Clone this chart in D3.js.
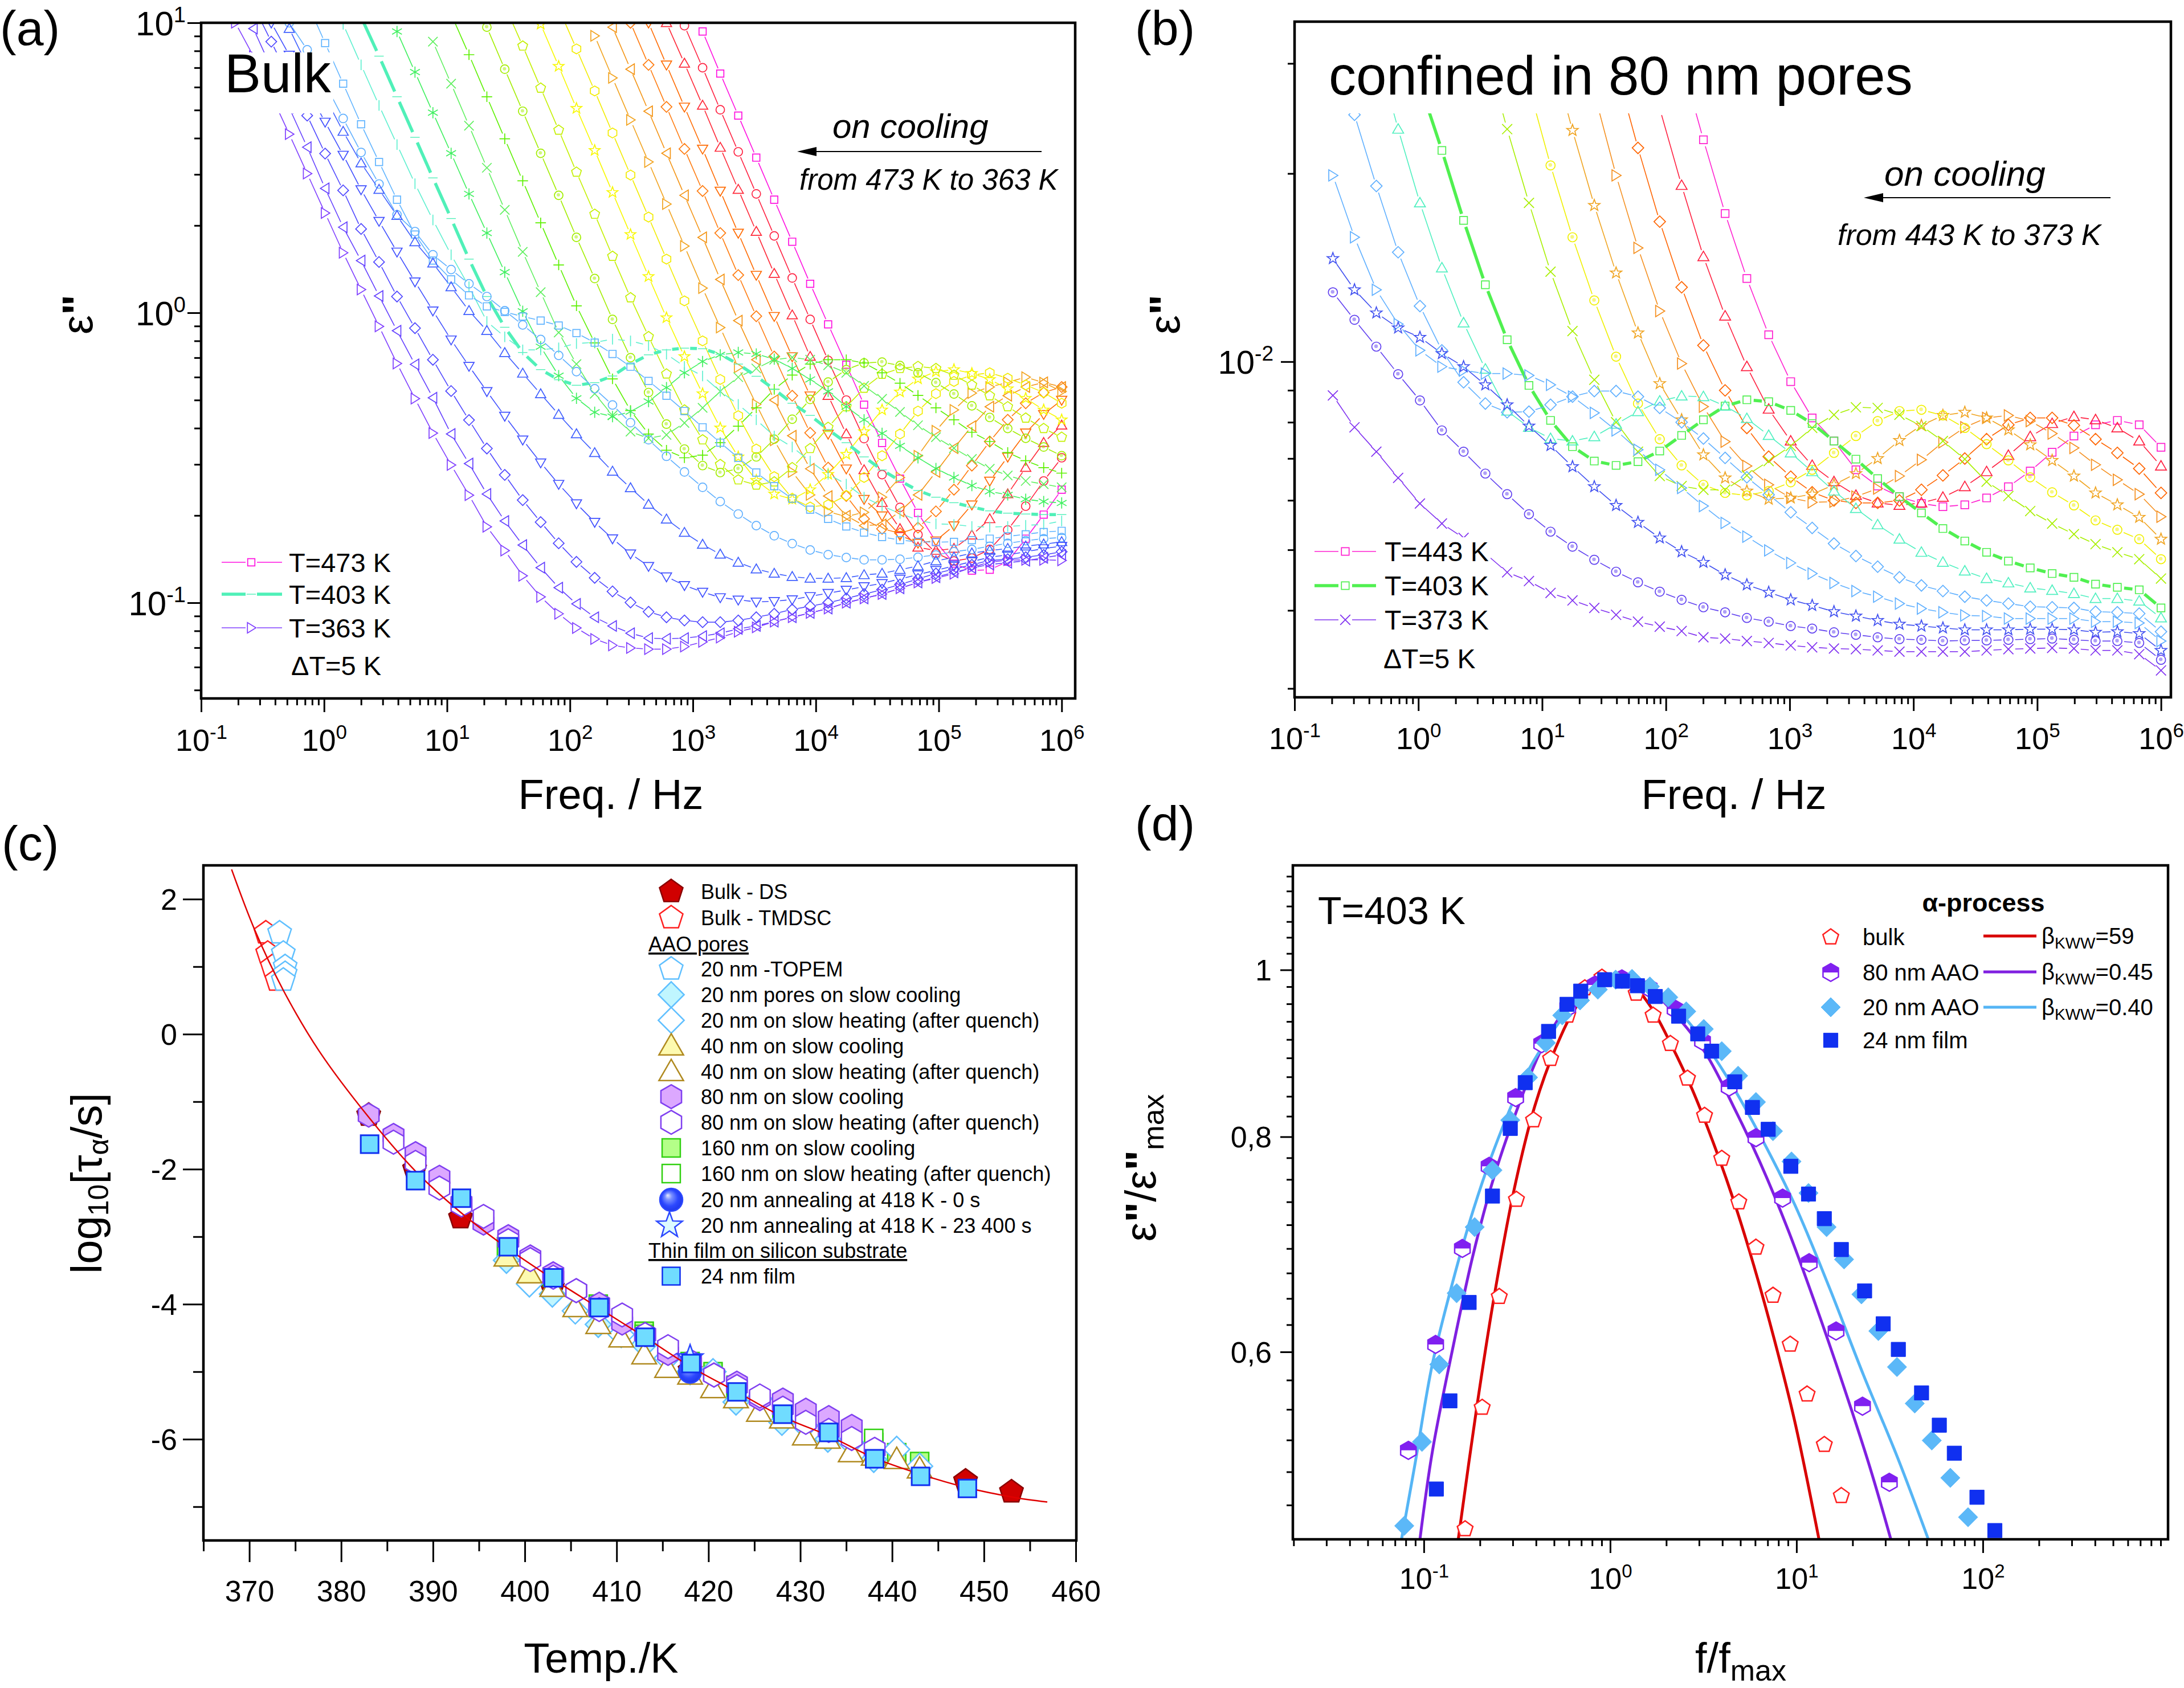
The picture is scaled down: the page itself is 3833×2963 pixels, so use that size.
<!DOCTYPE html>
<html><head><meta charset="utf-8">
<script src="https://cdnjs.cloudflare.com/ajax/libs/d3/7.8.5/d3.min.js"></script>
<style>html,body{margin:0;padding:0;background:#fff}svg{display:block}text{font-family:"Liberation Sans",Arial,sans-serif;fill:#000}</style>
</head><body><svg id="c" width="3833" height="2963"></svg>
<script>
// ---------- panel (a): frequency grid and log10(eps'') per temperature ----------
const freqA=[1e6,714000,510000,364000,260000,186000,133000,94900,67800,48400,34600,24700,17700,12600,9000,6430,4590,3280,2340,1670,1200,854,610,436,311,222,159,113,81,57.8,41.3,29.5,21.1,15.1,10.8,7.68,5.49,3.92,2.8,2,1.43,1.02,.729,.521,.372,.266,.19];
const a473=[-.61,-.696,-.779,-.858,-.886,-.889,-.865,-.79,-.69,-.572,-.449,-.317,-.179,-.04,.10,.245,.39,.535,.68,.825,.97];
const a468=[-.50,-.58,-.667,-.749,-.816,-.846,-.856,-.829,-.765,-.671,-.558,-.434,-.301,-.164,-.023,.12,.265,.41,.555,.70,.845,.99];
const a463=[-.388,-.448,-.534,-.625,-.711,-.767,-.813,-.82,-.809,-.745,-.655,-.542,-.418,-.286,-.151,-.008,.135,.28,.425,.57,.715,.86,1.0];
const a458=[-.301,-.35,-.414,-.497,-.58,-.662,-.734,-.786,-.794,-.767,-.70,-.643,-.538,-.418,-.286,-.151,-.012,.13,.275,.42,.565,.71,.855,1.0];
const a453=[-.256,-.275,-.312,-.369,-.444,-.527,-.61,-.685,-.741,-.76,-.745,-.711,-.632,-.534,-.414,-.286,-.151,-.012,.13,.275,.42,.565,.71,.855,1.0];
const a448=[-.256,-.24,-.256,-.286,-.324,-.391,-.467,-.549,-.628,-.685,-.73,-.734,-.70,-.632,-.538,-.424,-.301,-.162,-.027,.115,.26,.405,.55,.695,.84,.985];
const a443=[-.271,-.241,-.222,-.24,-.256,-.277,-.335,-.407,-.493,-.568,-.636,-.688,-.703,-.686,-.628,-.549,-.44,-.316,-.188,-.051,.085,.23,.375,.52,.665,.81,.955];
const a438=[-.312,-.275,-.249,-.226,-.207,-.215,-.237,-.279,-.339,-.418,-.493,-.568,-.63,-.662,-.67,-.64,-.565,-.47,-.355,-.23,-.097,.041,.185,.33,.475,.62,.765,.91,1.05];
const a433=[-.369,-.335,-.295,-.262,-.23,-.209,-.196,-.203,-.228,-.273,-.335,-.41,-.488,-.557,-.61,-.643,-.625,-.578,-.497,-.397,-.279,-.151,-.017,.125,.27,.415,.56,.705,.85,.995];
const a428=[-.429,-.399,-.363,-.324,-.286,-.249,-.215,-.192,-.185,-.192,-.212,-.26,-.324,-.395,-.468,-.534,-.583,-.594,-.576,-.523,-.438,-.335,-.211,-.082,.052,.195,.34,.485,.63,.775,.92,1.06];
const a423=[-.493,-.463,-.433,-.399,-.361,-.321,-.28,-.241,-.207,-.182,-.17,-.173,-.196,-.239,-.299,-.367,-.436,-.497,-.538,-.551,-.527,-.47,-.384,-.275,-.155,-.023,.118,.26,.405,.55,.695,.84,.985];
const a418=[-.553,-.534,-.51,-.482,-.444,-.412,-.369,-.328,-.285,-.243,-.207,-.173,-.162,-.162,-.177,-.215,-.264,-.328,-.391,-.448,-.491,-.5,-.474,-.418,-.337,-.228,-.104,.024,.165,.31,.455,.6,.745,.89,1.03];
const a413=[-.602,-.591,-.58,-.561,-.538,-.504,-.467,-.429,-.388,-.342,-.297,-.252,-.207,-.181,-.162,-.154,-.162,-.192,-.222,-.271,-.328,-.38,-.421,-.433,-.41,-.354,-.279,-.177,-.068,.071,.21,.355,.50,.645,.79,.935];
const a408=[-.656,-.651,-.643,-.628,-.616,-.596,-.568,-.537,-.50,-.459,-.416,-.369,-.324,-.271,-.23,-.192,-.16,-.142,-.137,-.145,-.168,-.207,-.258,-.306,-.341,-.358,-.343,-.295,-.217,-.117,.005,.14,.275,.41,.55,.69,.83,.97];
const a403=[-.696,-.696,-.694,-.691,-.683,-.67,-.655,-.636,-.613,-.579,-.542,-.497,-.448,-.403,-.354,-.312,-.264,-.219,-.177,-.143,-.124,-.122,-.128,-.145,-.177,-.218,-.241,-.25,-.231,-.196,-.137,-.05,.056,.185,.325,.465,.605,.745,.885,1.02];
const a398=[-.718,-.73,-.733,-.737,-.739,-.737,-.73,-.728,-.715,-.692,-.666,-.636,-.591,-.557,-.512,-.463,-.425,-.369,-.316,-.271,-.218,-.185,-.143,-.113,-.097,-.091,-.102,-.106,-.121,-.128,-.128,-.083,-.03,.09,.2,.32,.445,.58,.715,.855,.995];
const a393=[-.752,-.756,-.764,-.771,-.779,-.784,-.79,-.791,-.79,-.784,-.773,-.758,-.737,-.711,-.679,-.641,-.598,-.551,-.5,-.448,-.395,-.339,-.286,-.235,-.186,-.142,-.103,-.07,-.044,-.027,-.013,.003,.022,.06,.115,.18,.27,.39,.52,.65,.79,.93,1.07];
const a388=[-.775,-.779,-.786,-.795,-.805,-.816,-.824,-.835,-.843,-.85,-.852,-.852,-.844,-.834,-.818,-.796,-.769,-.734,-.694,-.651,-.602,-.549,-.495,-.438,-.379,-.318,-.262,-.203,-.147,-.092,-.042,.007,.056,.10,.149,.20,.28,.338,.444,.553,.67,.79,.907,1.0];
const a383=[-.79,-.798,-.805,-.813,-.82,-.829,-.843,-.856,-.873,-.886,-.899,-.904,-.914,-.916,-.916,-.91,-.899,-.884,-.861,-.833,-.799,-.758,-.712,-.661,-.604,-.547,-.483,-.418,-.351,-.28,-.209,-.138,-.062,.007,.089,.171,.244,.335,.425,.516,.625,.744,.853,.98];
const a378=[-.805,-.813,-.824,-.835,-.843,-.858,-.873,-.888,-.903,-.918,-.933,-.944,-.956,-.967,-.978,-.989,-.995,-.997,-.99,-.982,-.963,-.94,-.91,-.874,-.831,-.779,-.722,-.658,-.591,-.517,-.438,-.356,-.271,-.184,-.093,.007,.107,.21,.316,.425,.544,.658,.771,.889,1.0];
const a373=[-.824,-.835,-.843,-.85,-.854,-.869,-.884,-.899,-.918,-.937,-.955,-.97,-.985,-1.0,-1.012,-1.023,-1.038,-1.05,-1.061,-1.067,-1.067,-1.061,-1.05,-1.031,-.999,-.961,-.914,-.859,-.795,-.722,-.646,-.559,-.468,-.37,-.27,-.162,-.053,.056,.175,.289,.422,.549,.68,.807,.935,1.06];
const a368=[-.835,-.845,-.855,-.862,-.868,-.88,-.895,-.912,-.93,-.95,-.97,-.985,-1.0,-1.02,-1.035,-1.05,-1.065,-1.08,-1.09,-1.105,-1.115,-1.122,-1.124,-1.122,-1.105,-1.08,-1.05,-1.004,-.948,-.879,-.801,-.718,-.625,-.52,-.418,-.293,-.178,-.062,.058,.18,.295,.429,.571,.707,.844,.98];
const a363=[-.854,-.852,-.852,-.853,-.86,-.878,-.9,-.915,-.93,-.95,-.97,-.985,-1.0,-1.02,-1.035,-1.05,-1.065,-1.085,-1.10,-1.12,-1.135,-1.151,-1.16,-1.16,-1.156,-1.147,-1.125,-1.087,-1.038,-.98,-.907,-.82,-.738,-.629,-.525,-.415,-.296,-.175,-.047,.08,.207,.344,.48,.616,.75,.885,1.0];
const tempsA=[473,468,463,458,453,448,443,438,433,428,423,418,413,408,403,398,393,388,383,378,373,368,363];
const curvesA=[a473,a468,a463,a458,a453,a448,a443,a438,a433,a428,a423,a418,a413,a408,a403,a398,a393,a388,a383,a378,a373,a368,a363];
const colorsA=['#ff10e0','#ff2040','#ff2838','#ff6a00','#ff7c10','#f49414','#f2a420','#f2ec00','#f8f800','#c4f000','#a2ee00','#5cf000','#60f060','#40f060','#50f0b8','#60f0d0','#60b4ff','#60b0ff','#4060ff','#4050ff','#5048ff','#6440ff','#8040ff'];
const shapesA=['square','circle','triUp','triDown','diamond','triLeft','triRight','hexagon','star','pentagon','sphere','plus','cross','aster','dash','vbar','square','circle','triUp','triDown','diamond','triLeft','triRight'];

// ---------- panel (b) ----------
const freqB=[1e6,667000,444000,296000,198000,132000,87800,58500,39000,26000,17300,11600,7710,5140,3430,2280,1520,1020,677,451,301,201,134,89.2,59.5,39.6,26.4,17.6,11.7,7.83,5.22,3.48,2.32,1.55,1.03,.687,.458,.305,.204];
const b443=[-2.137,-2.101,-2.094,-2.101,-2.119,-2.145,-2.175,-2.2,-2.218,-2.229,-2.232,-2.227,-2.216,-2.199,-2.173,-2.127,-2.09,-2.032,-1.957,-1.867,-1.763,-1.645,-1.52];
const b438=[-2.167,-2.127,-2.106,-2.093,-2.088,-2.099,-2.12,-2.15,-2.176,-2.2,-2.217,-2.226,-2.23,-2.226,-2.214,-2.192,-2.166,-2.127,-2.076,-2.008,-1.927,-1.832,-1.718,-1.595];
const b433=[-2.21,-2.171,-2.146,-2.124,-2.102,-2.09,-2.09,-2.101,-2.124,-2.155,-2.182,-2.205,-2.222,-2.226,-2.226,-2.222,-2.209,-2.184,-2.152,-2.106,-2.046,-1.974,-1.881,-1.776,-1.658,-1.53];
const b428=[-2.248,-2.212,-2.189,-2.165,-2.138,-2.115,-2.095,-2.086,-2.09,-2.105,-2.129,-2.157,-2.183,-2.203,-2.216,-2.224,-2.225,-2.218,-2.197,-2.167,-2.128,-2.072,-2.003,-1.919,-1.818,-1.702,-1.57];
const b423=[-2.284,-2.249,-2.229,-2.21,-2.183,-2.158,-2.133,-2.109,-2.09,-2.081,-2.086,-2.102,-2.126,-2.155,-2.179,-2.197,-2.212,-2.218,-2.22,-2.207,-2.186,-2.149,-2.093,-2.035,-1.954,-1.858,-1.75,-1.63,-1.5];
const b418=[-2.316,-2.284,-2.269,-2.254,-2.23,-2.209,-2.185,-2.158,-2.132,-2.106,-2.086,-2.077,-2.079,-2.095,-2.119,-2.146,-2.173,-2.193,-2.207,-2.214,-2.21,-2.197,-2.166,-2.124,-2.067,-1.992,-1.902,-1.801,-1.686,-1.56];
const b413=[-2.347,-2.316,-2.305,-2.292,-2.276,-2.259,-2.239,-2.215,-2.192,-2.156,-2.127,-2.103,-2.085,-2.074,-2.073,-2.085,-2.106,-2.135,-2.159,-2.182,-2.205,-2.205,-2.199,-2.183,-2.144,-2.097,-2.029,-1.951,-1.856,-1.746,-1.628,-1.5];
const b403=[-2.394,-2.365,-2.361,-2.356,-2.345,-2.339,-2.33,-2.319,-2.305,-2.287,-2.267,-2.242,-2.216,-2.187,-2.156,-2.127,-2.099,-2.078,-2.064,-2.061,-2.071,-2.093,-2.118,-2.143,-2.16,-2.166,-2.159,-2.136,-2.094,-2.038,-1.965,-1.877,-1.774,-1.662,-1.556];
const b398=[-2.41,-2.383,-2.379,-2.379,-2.371,-2.366,-2.362,-2.354,-2.347,-2.335,-2.321,-2.305,-2.284,-2.261,-2.235,-2.207,-2.176,-2.146,-2.118,-2.091,-2.071,-2.056,-2.055,-2.063,-2.08,-2.1,-2.12,-2.127,-2.123,-2.105,-2.079,-2.012,-1.938,-1.85,-1.746,-1.628,-1.5];
const b393=[-2.432,-2.403,-2.401,-2.4,-2.394,-2.393,-2.392,-2.387,-2.382,-2.376,-2.367,-2.358,-2.345,-2.328,-2.311,-2.291,-2.266,-2.241,-2.213,-2.185,-2.154,-2.123,-2.097,-2.074,-2.056,-2.047,-2.047,-2.056,-2.069,-2.08,-2.081,-2.067,-2.033,-1.982,-1.911,-1.825,-1.719,-1.605,-1.48];
const b388=[-2.447,-2.418,-2.416,-2.416,-2.411,-2.411,-2.411,-2.411,-2.407,-2.406,-2.401,-2.395,-2.387,-2.376,-2.367,-2.354,-2.339,-2.322,-2.302,-2.28,-2.258,-2.231,-2.202,-2.173,-2.141,-2.11,-2.082,-2.056,-2.037,-2.022,-2.019,-2.019,-2.014,-2.008,-1.982,-1.94,-1.885,-1.801,-1.702];
const b383=[-2.462,-2.435,-2.432,-2.433,-2.429,-2.428,-2.428,-2.429,-2.429,-2.429,-2.426,-2.423,-2.42,-2.414,-2.407,-2.4,-2.39,-2.381,-2.369,-2.357,-2.341,-2.321,-2.304,-2.282,-2.257,-2.23,-2.2,-2.168,-2.134,-2.103,-2.069,-2.037,-2.008,-1.987,-1.961,-1.946,-1.922,-1.885,-1.835];
const b378=[-2.477,-2.45,-2.447,-2.447,-2.445,-2.443,-2.444,-2.445,-2.446,-2.446,-2.447,-2.445,-2.444,-2.441,-2.437,-2.433,-2.427,-2.423,-2.416,-2.41,-2.401,-2.393,-2.381,-2.368,-2.353,-2.336,-2.317,-2.296,-2.272,-2.244,-2.212,-2.179,-2.144,-2.11,-2.062,-2.02,-1.976,-1.933,-1.889];
const b373=[-2.494,-2.468,-2.462,-2.462,-2.459,-2.458,-2.459,-2.46,-2.462,-2.464,-2.464,-2.464,-2.464,-2.462,-2.46,-2.459,-2.457,-2.454,-2.45,-2.447,-2.443,-2.441,-2.431,-2.424,-2.416,-2.405,-2.394,-2.382,-2.37,-2.351,-2.337,-2.307,-2.282,-2.259,-2.227,-2.186,-2.144,-2.105,-2.054];
const curvesB=[b443,b438,b433,b428,b423,b418,b413,b403,b398,b393,b388,b383,b378,b373];
const tempsB=[443,438,433,428,423,418,413,403,398,393,388,383,378,373];
const colorsB=['#ff20d0','#ff2040','#ff6400','#f59020','#f0a420','#f0f000','#a8f000','#50f050','#50f0c0','#60b0ff','#60b0ff','#4050f0','#6040f0','#8030f0'];
const shapesB=['square','triUp','diamond','triRight','star','sphere','cross','square','triUp','diamond','triRight','star','sphere','cross'];

// ---------- panel (c) ----------
const vftT=[368.07,370.6,373.7,377.6,383,388.1,393.1,398.2,403.1,408.1,413.1,418.1,423.1,428.1,433.1,438.1,443.1,448.2,453.2,456.9];
const vftV=[2.44,1.54,.65,-.25,-1.23,-2.03,-2.65,-3.18,-3.63,-4.06,-4.49,-4.93,-5.3,-5.67,-5.95,-6.28,-6.52,-6.72,-6.86,-6.93];
const dsT=[383,388,393,403,418,448,453];
const dsV=[-1.2,-2.0,-2.72,-3.75,-4.98,-6.62,-6.78];
const tmdscT=[371.8,372,372.5,373];
const tmdscV=[1.5,1.2,1.0,.8];
const topemT=[373.3,373.7,373.9,373.9,373.7];
const topemV=[1.5,1.2,1.0,.9,.8];
const cool20T=[398,403,408,413,418,423,428,433,438];
const cool20V=[-3.35,-3.85,-4.3,-4.6,-5.0,-5.45,-5.75,-6.0,-6.3];
const heat20T=[400.5,405.5,410.5,415.5,420.5,425.5,430.5,435.5,440.5,443];
const heat20V=[-3.7,-4.1,-4.45,-4.8,-5.0,-5.4,-5.8,-6.05,-6.15,-6.4];
const cool40T=[398,400.5];
const cool40V=[-3.3,-3.55];
const heat40T=[403,405.5,408,410.5,413,415.5,418,420.5,423,425.5,428,430.5,433,435.5,438,440.5,443];
const heat40V=[-3.75,-4.05,-4.3,-4.5,-4.75,-4.95,-5.05,-5.25,-5.4,-5.6,-5.7,-5.95,-6.0,-6.2,-6.25,-6.3,-6.44];
const cool80T=[383,385.7,388.1,390.7,393.1,395.5,398.2,400.6,403.1,405.6,408.1,410.6,413.1,415.6,418.1,420.6,423.1,425.6,428.1,430.6,433.1,435.6];
const cool80V=[-1.2,-1.5,-1.77,-2.12,-2.5,-2.8,-3.0,-3.3,-3.55,-3.8,-4.0,-4.28,-4.45,-4.73,-4.85,-5.05,-5.17,-5.4,-5.42,-5.57,-5.68,-5.81];
const heat80T=[385.7,388.1,390.7,393.1,395.5,398.2,400.6,403.1,405.6,408.1,410.6,413.1,415.6,418.1,420.6,423.1,425.6,428.1,430.6,433.1,435.6,438.1];
const heat80V=[-1.6,-1.9,-2.28,-2.53,-2.7,-3.06,-3.34,-3.6,-3.8,-4.08,-4.16,-4.45,-4.63,-4.89,-5.05,-5.22,-5.36,-5.54,-5.75,-5.87,-5.99,-6.15];
const cool160T=[398,403,408,413,418,420.5,423,428,433,438,440.5,443];
const cool160V=[-3.15,-3.6,-4.0,-4.4,-4.85,-5.0,-5.2,-5.55,-5.85,-6.05,-6.2,-6.33];
const heat160T=[408,413,418,423,428,433,438];
const heat160V=[-4.05,-4.45,-4.9,-5.25,-5.6,-5.9,-5.99];
const sphereT=[418], sphereV=[-5.0], starT=[418], starV=[-4.8];
const filmT=[383.1,388.1,393.1,398.2,403.1,408.1,413.1,418.1,423.1,428.1,433.1,438.1,443.1,448.2];
const filmV=[-1.63,-2.17,-2.43,-3.15,-3.61,-4.05,-4.49,-4.88,-5.3,-5.63,-5.9,-6.29,-6.55,-6.73];

// ---------- panel (d) ----------
const bulkF=[.1665,.2056,.254,.314,.388,.479,.592,.731,.903,1.116,1.379,1.70,2.105,2.60,3.21,3.97,4.9,6.06,7.48,9.25,11.4,14.1,17.4];
const bulkV=[.4735,.557,.646,.7356,.818,.888,.941,.976,.99,.987,.969,.941,.906,.865,.823,.777,.733,.69,.647,.606,.567,.53,.495];
const aao80F=[.0826,.1157,.161,.224,.311,.429,.592,.83,1.155,1.62,2.23,3.13,4.35,6.06,8.42,11.7,16.3,22.6,31.5];
const aao80V=[.526,.606,.689,.769,.843,.906,.951,.98,.988,.976,.949,.909,.855,.799,.737,.676,.617,.558,.504];
const aao20F=[.0785,.0977,.121,.150,.1875,.2335,.291,.3625,.4515,.553,.689,.859,1.07,1.31,1.633,2.05,2.56,3.18,3.97,4.86,6.06,7.48,9.4,11.6,14.5,18,22.3,27.5,34.6,43.1,53.2,66.9,83.3];
const aao20V=[.4755,.532,.59,.649,.709,.765,.818,.866,.907,.941,.96,.974,.987,.988,.978,.964,.946,.924,.897,.868,.838,.806,.774,.742,.709,.679,.648,.617,.588,.56,.533,.507,.481];
const film24F=[.1167,.138,.175,.2335,.291,.35,.467,.587,.695,.934,1.164,1.40,1.747,2.33,2.95,3.5,4.66,5.8,7.05,9.32,11.6,14.1,17.4,23.2,29.2,35.2,46.9,58.4,70.3,93,116];
const film24V=[.4995,.562,.641,.739,.809,.86,.921,.955,.972,.987,.985,.979,.965,.94,.918,.897,.861,.832,.808,.769,.741,.717,.688,.651,.623,.602,.568,.544,.524,.494,.4725];
const kww59F=[.153,.192,.2375,.306,.394,.508,.655,.845,1.04,1.289,1.66,2.14,2.76,3.56,4.58,5.9,7.6,9.8,13.2];
const kww59V=[.467,.5565,.6445,.7465,.8335,.9,.951,.98,.9927,.983,.951,.9036,.852,.7947,.7357,.6735,.6101,.5464,.467];
const kww45F=[.0953,.111,.143,.184,.2375,.306,.429,.602,.845,1.135,1.66,2.33,3.27,4.58,6.43,9.0,12.6,17.7,24.9,32];
const kww45V=[.467,.5248,.603,.6836,.7577,.8214,.9,.9548,.983,.9927,.972,.9374,.8937,.8335,.7714,.7066,.6399,.5752,.5133,.4675];
const kww40F=[.0759,.0898,.111,.143,.184,.2375,.333,.467,.655,.919,1.235,1.807,2.76,4.2,6.43,9.8,15,22.9,34.9,51];
const kww40V=[.467,.517,.59,.659,.725,.786,.8585,.9137,.958,.985,.9927,.972,.927,.868,.8,.7303,.654,.5816,.5208,.467];
const minorStepD=[.4889,.5111,.5333,.5556,.5778,.6222,.6444,.6667,.6889,.7111,.7333,.7556,.7778,.8222,.8444,.8667,.8889,.9111,.9333,.9556,.9778,1.0222,1.0444,1.0667,1.0889,1.1111,1.1333];

// ---------- helpers ----------
const svg=d3.select('#c');
const defs=svg.append('defs');
const grad=defs.append('radialGradient').attr('id','ball').attr('cx','.5').attr('cy','.5').attr('r','.6').attr('fx','.34').attr('fy','.3');
grad.append('stop').attr('offset','0').attr('stop-color','#e8ecff');
grad.append('stop').attr('offset','.25').attr('stop-color','#7a90ff');
grad.append('stop').attr('offset','.6').attr('stop-color','#2c48ff');
grad.append('stop').attr('offset','1').attr('stop-color','#1a30e0');
function poly(p){const c=d3.path();p.forEach((q,i)=>i?c.lineTo(q[0],q[1]):c.moveTo(q[0],q[1]));c.closePath();return c.toString();}
function ngon(n,r,rot){return d3.range(n).map(i=>{const a=rot+i*2*Math.PI/n;return [r*Math.sin(a),-r*Math.cos(a)];});}
function shape(n,s){
  const h=s*.42,c=d3.path();
  switch(n){
    case 'square':return poly([[-h,-h],[h,-h],[h,h],[-h,h]]);
    case 'circle':case 'sphere':c.arc(0,0,s*.5,0,2*Math.PI);return c.toString();
    case 'triUp':return poly([[0,-s*.6],[s*.6,s*.44],[-s*.6,s*.44]]);
    case 'triDown':return poly([[0,s*.6],[s*.6,-s*.44],[-s*.6,-s*.44]]);
    case 'triLeft':return poly([[-s*.55,0],[s*.45,-s*.62],[s*.45,s*.62]]);
    case 'triRight':return poly([[s*.55,0],[-s*.45,-s*.62],[-s*.45,s*.62]]);
    case 'diamond':return poly([[0,-s*.63],[s*.63,0],[0,s*.63],[-s*.63,0]]);
    case 'hexagon':return poly(ngon(6,s*.58,0));
    case 'pentagon':return poly(ngon(5,s*.6,0));
    case 'star':{const o=ngon(5,s*.66,0),i=ngon(5,s*.27,Math.PI/5);return poly(d3.range(5).flatMap(k=>[o[k],i[k]]));}
    case 'plus':{const r=s*.62;c.moveTo(-r,0);c.lineTo(r,0);c.moveTo(0,-r);c.lineTo(0,r);return c.toString();}
    case 'cross':{const r=s*.55;c.moveTo(-r,-r);c.lineTo(r,r);c.moveTo(-r,r);c.lineTo(r,-r);return c.toString();}
    case 'aster':{const r=s*.66;for(let i=0;i<3;i++){const a=i*Math.PI/3;c.moveTo(-r*Math.sin(a),-r*Math.cos(a));c.lineTo(r*Math.sin(a),r*Math.cos(a));}return c.toString();}
    case 'dash':{const r=s*.55;c.moveTo(-r,0);c.lineTo(r,0);return c.toString();}
    case 'vbar':{const r=s*.62;c.moveTo(0,-r);c.lineTo(0,r);return c.toString();}
  }
}
function marker(g,x,y,n,s,col,fill,sw){
  g.append('path').attr('transform',`translate(${x},${y})`).attr('d',shape(n,s)).attr('fill',fill||'none').attr('stroke',col).attr('stroke-width',sw);
  if(n==='sphere') g.append('circle').attr('cx',x-.5).attr('cy',y-.8).attr('r',s*.2).attr('fill',col).attr('opacity',.5);
}
function curve(g,xs,ys,freq,vals,col,n,s,lw,gap,msw){
  const pts=vals.map((v,k)=>[xs(freq[k]),ys(Math.pow(10,v))]);
  g.append('g').selectAll('line').data(d3.pairs(pts)).join('line').each(function(d){
    const dx=d[1][0]-d[0][0],dy=d[1][1]-d[0][1],L=Math.hypot(dx,dy);
    const ux=dx/L,uy=dy/L,el=d3.select(this);
    if(L<=2*gap){el.remove();return;}
    el.attr('x1',d[0][0]+ux*gap).attr('y1',d[0][1]+uy*gap).attr('x2',d[1][0]-ux*gap).attr('y2',d[1][1]-uy*gap)
      .attr('stroke',col).attr('stroke-width',lw);
  });
  pts.forEach(p=>marker(g,p[0],p[1],n,s,col,null,msw));
}
function clip(id,x0,x1,y0,y1){defs.append('clipPath').attr('id',id).append('rect').attr('x',x0).attr('y',y0).attr('width',x1-x0).attr('height',y1-y0);}
function logLabel(sel,fs,sup){
  sel.each(function(d){
    const e=Math.round(Math.log10(d)),t=d3.select(this).text(null);
    t.append('tspan').attr('font-size',fs).text('10');
    t.append('tspan').attr('font-size',sup).attr('dy',-sup*.6).text(e);
  });
}
function bottomAxis(x,y0,major,minor,lenMaj,lenMin,base,fs,sup,fmt){
  svg.append('g').attr('transform',`translate(0,${y0})`).call(d3.axisBottom(x).tickValues(minor).tickSize(lenMin).tickFormat('')).call(g=>g.select('.domain').remove()).selectAll('line').attr('stroke','#000').attr('stroke-width',3);
  const g=svg.append('g').attr('transform',`translate(0,${y0})`).call(d3.axisBottom(x).tickValues(major).tickSize(lenMaj).tickFormat(fmt||(d=>d)));
  g.select('.domain').remove();g.selectAll('line').attr('stroke','#000').attr('stroke-width',3);
  const t=g.selectAll('text').attr('y',base).attr('dy',0).attr('font-size',fs).attr('font-family','"Liberation Sans"').attr('fill','#000');
  if(sup) logLabel(t,fs,sup);
}
function leftAxis(y,x0,major,minor,lenMaj,lenMin,pad,fs,sup,fmt){
  svg.append('g').attr('transform',`translate(${x0},0)`).call(d3.axisLeft(y).tickValues(minor).tickSize(lenMin).tickFormat('')).call(g=>g.select('.domain').remove()).selectAll('line').attr('stroke','#000').attr('stroke-width',3);
  const g=svg.append('g').attr('transform',`translate(${x0},0)`).call(d3.axisLeft(y).tickValues(major).tickSize(lenMaj).tickFormat(fmt||(d=>d)));
  g.select('.domain').remove();g.selectAll('line').attr('stroke','#000').attr('stroke-width',3);
  const t=g.selectAll('text').attr('x',-pad).attr('dy','.35em').attr('font-size',fs).attr('font-family','"Liberation Sans"').attr('fill','#000').attr('text-anchor','end');
  if(sup) logLabel(t,fs,sup);
}
function frame(x0,x1,y0,y1){svg.append('rect').attr('x',x0).attr('y',y0).attr('width',x1-x0).attr('height',y1-y0).attr('fill','none').attr('stroke','#000').attr('stroke-width',4.5);}
function text(x,y,s,fs,o){o=o||{};const t=svg.append('text').attr('x',x).attr('y',y).attr('font-size',fs).text(s);
  if(o.anchor)t.attr('text-anchor',o.anchor);if(o.italic)t.attr('font-style','italic');if(o.weight)t.attr('font-weight',o.weight);if(o.under)t.attr('text-decoration','underline');return t;}
function vtext(x,y,fs,parts,anchor){
  const t=svg.append('text').attr('transform',`translate(${x},${y}) rotate(-90)`).attr('text-anchor',anchor||'middle').attr('font-size',fs);
  parts.forEach(p=>{const s=t.append('tspan').text(p[0]).attr('font-size',p[1]||fs);if(p[2])s.attr('dy',p[2]);if(p[3])s.attr('font-weight',p[3]);});return t;}
function logMinor(d0,d1){const r=[];for(let d=d0;d<=d1;d++)for(let m=2;m<=9;m++)r.push(m*Math.pow(10,d));return r;}
function arrow(x1,x2,y){
  svg.append('line').attr('x1',x1+20).attr('x2',x2).attr('y1',y).attr('y2',y).attr('stroke','#000').attr('stroke-width',2);
  svg.append('path').attr('d',`M${x1},${y}L${x1+34},${y-8}L${x1+34},${y+8}Z`).attr('fill','#000');
}
const decades=[.1,1,10,100,1e3,1e4,1e5,1e6];

// ---------- panel (a) ----------
{
 const x=d3.scaleLog().domain([.1,Math.pow(10,6.11)]).range([353,1887]);
 const y=d3.scaleLog().domain([Math.pow(10,-1.33),10]).range([1226,40]);
 clip('ca',353,1887,40,1226);
 const g=svg.append('g').attr('clip-path','url(#ca)');
 curvesA.forEach((v,i)=>{const t=tempsA[i]===403;curve(g,x,y,freqA,v,colorsA[i],shapesA[i],15,t?5.5:1.6,10,t?1.4:1.7);});
 svg.append('rect').attr('x',360).attr('y',92).attr('width',225).attr('height',107).attr('fill','#fff');
 bottomAxis(x,1226,decades,logMinor(-1,5),24,12,92,54,35);
 leftAxis(y,353,[.1,1,10],[.05,.06,.07,.08,.09].concat(logMinor(-1,0)),24,12,27,60,38);
 frame(353,1887,40,1226);
 text(394,162,'Bulk',96);
 text(1461,242,'on cooling',60,{italic:1});
 text(1403,333,'from 473 K to 363 K',51,{italic:1});
 arrow(1399,1828,266);
 [[473,987],[403,1043],[363,1102]].forEach(r=>{
   const i=tempsA.indexOf(r[0]),t=r[0]===403;
   svg.append('line').attr('x1',389).attr('x2',431).attr('y1',r[1]).attr('y2',r[1]).attr('stroke',colorsA[i]).attr('stroke-width',t?5.5:1.6);
   svg.append('line').attr('x1',451).attr('x2',495).attr('y1',r[1]).attr('y2',r[1]).attr('stroke',colorsA[i]).attr('stroke-width',t?5.5:1.6);
   marker(svg,441,r[1],shapesA[i],15,colorsA[i],null,t?1.4:1.7);
   text(507,r[1]+17,'T='+r[0]+' K',47);
 });
 text(511,1185,'\u0394T=5 K',47);
 vtext(162,552,76,[['\u03b5'],['"',76,0,'bold']]);
 text(1072,1420,'Freq. / Hz',74,{anchor:'middle'});
 text(0,79,'(a)',86);
}
// ---------- panel (b) ----------
{
 const x=d3.scaleLog().domain([.1,Math.pow(10,6.08)]).range([2272,3810]);
 const y=d3.scaleLog().domain([Math.pow(10,-2.537),Math.pow(10,-1.456)]).range([1224,38]);
 clip('cb',2272,3810,38,1224);
 const g=svg.append('g').attr('clip-path','url(#cb)');
 curvesB.forEach((v,i)=>{const t=tempsB[i]===403;curve(g,x,y,freqB,v,colorsB[i],shapesB[i],16,t?5.5:1.6,12,1.7);});
 svg.append('rect').attr('x',2275).attr('y',42).attr('width',1092).attr('height',157).attr('fill','#fff');
 svg.append('rect').attr('x',2304).attr('y',943).attr('width',312).attr('height',236).attr('fill','#fff');
 bottomAxis(x,1224,decades,logMinor(-1,5),24,12,91,54,35);
 leftAxis(y,2272,[.01],[.003,.004,.005,.006,.007,.008,.009,.02,.03],24,12,37,58,37);
 frame(2272,3810,38,1224);
 text(2332,166,'confined in 80 nm pores',96);
 text(3307,326,'on cooling',62,{italic:1});
 text(3225,430,'from 443 K to 373 K',52,{italic:1});
 arrow(3271,3704,347);
 [[443,968],[403,1028],[373,1088]].forEach(r=>{
   const i=tempsB.indexOf(r[0]),t=r[0]===403;
   svg.append('line').attr('x1',2307).attr('x2',2349).attr('y1',r[1]).attr('y2',r[1]).attr('stroke',colorsB[i]).attr('stroke-width',t?5.5:1.6);
   svg.append('line').attr('x1',2373).attr('x2',2415).attr('y1',r[1]).attr('y2',r[1]).attr('stroke',colorsB[i]).attr('stroke-width',t?5.5:1.6);
   marker(svg,2361,r[1],shapesB[i],16,colorsB[i],null,1.7);
   text(2430,r[1]+17,'T='+r[0]+' K',48);
 });
 text(2428,1173,'\u0394T=5 K',48);
 vtext(2070,552,76,[['\u03b5'],['"',76,0,'bold']]);
 text(3043,1420,'Freq. / Hz',74,{anchor:'middle'});
 text(1992,79,'(b)',86);
}
// ---------- panel (c) ----------
{
 const x=d3.scaleLinear().domain([365,460]).range([357,1888]);
 const y=d3.scaleLinear().domain([-7.5,2.5]).range([2704,1519]);
 clip('cc',357,1889,1519,2704);
 const g=svg.append('g').attr('clip-path','url(#cc)');
 const sDS=['pentagon',36,'#8a0000','#d00000'],sTM=['pentagon',36,'#ff2020','#fff'],
  sTop=['pentagon',36,'#60c0ff','#fff'],sC20=['diamond',36,'#60c0ff','#c0f6ff'],sH20=['diamond',36,'#60c0ff','#fff'],
  sC40=['triUp',36,'#b08a20','#fdfab0'],sH40=['triUp',36,'#b08a20','#fff'],
  sC80=['hexagon',36,'#8040f0','#dca8ff'],sH80=['hexagon',36,'#8040f0','#fff'],
  sC160=['square',38,'#30d010','#b4ff88'],sH160=['square',38,'#30d010','#fff'],
  sSp=['circle',40,'#2c48ff','url(#ball)'],sSt=['star',36,'#2c48ff','#dcfbff'],sF=['square',37,'#1030f0','#70dcff'];
 const put=(T,V,s,w)=>T.forEach((t,i)=>marker(g,x(t),y(V[i]),s[0],s[1],s[2],s[3],w||2.5));
 put(dsT,dsV,sDS);put(tmdscT,tmdscV,sTM);
 put(cool160T,cool160V,sC160);put(heat160T,heat160V,sH160);
 put(cool20T,cool20V,sC20);put(heat20T,heat20V,sH20);
 put(cool40T,cool40V,sC40);put(heat40T,heat40V,sH40);
 put(cool80T,cool80V,sC80);put(heat80T,heat80V,sH80);
 put(topemT,topemV,sTop);put(sphereT,sphereV,sSp);put(starT,starV,sSt);
 g.append('path').attr('d',d3.line().x(d=>x(d[0])).y(d=>y(d[1])).curve(d3.curveCatmullRom)(vftT.map((t,i)=>[t,vftV[i]]))).attr('fill','none').attr('stroke','#e00000').attr('stroke-width',2.5);
 put(filmT,filmV,sF,3);
 bottomAxis(x,2704,d3.range(370,461,10),d3.range(365,460,10),38,19,107,52);
 leftAxis(y,357,[2,0,-2,-4,-6],[1,-1,-3,-5,-7],36,18,46,52);
 frame(357,1889,1519,2704);
 const rows=[[1565,'Bulk - DS',sDS],[1611,'Bulk - TMDSC',sTM],[1657,'AAO pores'],[1701,'20 nm -TOPEM',sTop],[1746,'20 nm pores on slow cooling',sC20],[1791,'20 nm on slow heating (after quench)',sH20],[1836,'40 nm on slow cooling',sC40],[1881,'40 nm on slow heating (after quench)',sH40],[1925,'80 nm on slow cooling',sC80],[1970,'80 nm on slow heating (after quench)',sH80],[2015,'160 nm on slow cooling',sC160],[2060,'160 nm on slow heating (after quench)',sH160],[2106,'20 nm annealing at 418 K - 0 s',sSp],[2151,'20 nm annealing at 418 K - 23 400 s',sSt],[2195,'Thin film on silicon substrate'],[2240,'24 nm film',sF]];
 rows.forEach(r=>{
   if(r[2]){marker(svg,r[2]===sSt?1175:1178,r[0],r[2][0],r[2][1],r[2][2],r[2][3],2.5);text(1230,r[0]+13,r[1],36);}
   else text(1138,r[0]+13,r[1],36,{under:1});
 });
 vtext(178,2077,76,[['log'],['10',50,12],['[\u03c4',76,-12],['\u03b1',50,12],['/s]',76,-12]]);
 text(1055,2936,'Temp./K',74,{anchor:'middle'});
 text(3,1510,'(c)',86);
}
// ---------- panel (d) ----------
{
 const x=d3.scaleLog().domain([Math.pow(10,-1.703),Math.pow(10,2.994)]).range([2269,3805]);
 const y=d3.scaleLog().domain([.467,1.15]).range([2702,1519]);
 clip('cd',2269,3805,1519,2702);
 const g=svg.append('g').attr('clip-path','url(#cd)');
 const ln=d3.line().x(d=>x(d[0])).y(d=>y(d[1])).curve(d3.curveCatmullRom);
 [[kww59F,kww59V,'#d80000'],[kww45F,kww45V,'#8020e0'],[kww40F,kww40V,'#55b5f5']].forEach(k=>{
   g.append('path').attr('d',ln(k[0].map((f,i)=>[f,k[1][i]]))).attr('fill','none').attr('stroke',k[2]).attr('stroke-width',5);
 });
 const halfHex=(G,cx,cy)=>{
   const s=27,h=ngon(6,s*.58,0);
   G.append('path').attr('transform',`translate(${cx},${cy})`).attr('d',poly(h)).attr('fill','#fff').attr('stroke','#8020f0').attr('stroke-width',2.5);
   G.append('path').attr('transform',`translate(${cx},${cy})`).attr('d',poly([h[5],h[0],h[1]])+poly([h[1],[h[1][0],0],[h[5][0],0],h[5]])).attr('fill','#8020f0');
 };
 bulkF.forEach((f,i)=>marker(g,x(f),y(bulkV[i]),'pentagon',24,'#ff2020','#fff',2.5));
 aao80F.forEach((f,i)=>halfHex(g,x(f),y(aao80V[i])));
 aao20F.forEach((f,i)=>marker(g,x(f),y(aao20V[i]),'diamond',27,'#5bb8f8','#5bb8f8',1));
 film24F.forEach((f,i)=>marker(g,x(f),y(film24V[i]),'square',30,'#1030f0','#1030f0',1));
 bottomAxis(x,2702,[.1,1,10,100],logMinor(-2,2).filter(f=>f>=.02&&f<=990),24,12,87,52,33);
 leftAxis(y,2269,[.6,.8,1],minorStepD,22,11,37,52,0,d=>d===1?'1':String(d).replace('.',','));
 frame(2269,3805,1519,2702);
 text(2313,1622,'T=403 K',68);
 text(3481,1600,'\u03b1-process',45,{anchor:'middle',weight:'bold'});
 const rows=[[1645,'bulk'],[1707,'80 nm AAO'],[1768,'20 nm AAO'],[1826,'24 nm film']];
 rows.forEach(r=>text(3269,r[0]+14,r[1],40));
 marker(svg,3213,1645,'pentagon',24,'#ff2020','#fff',2.5);halfHex(svg,3213,1707);
 marker(svg,3213,1768,'diamond',27,'#5bb8f8','#5bb8f8',1);marker(svg,3213,1826,'square',30,'#1030f0','#1030f0',1);
 [[1643,'#d80000','=59'],[1706,'#8020e0','=0.45'],[1768,'#55b5f5','=0.40']].forEach(r=>{
   svg.append('line').attr('x1',3481).attr('x2',3574).attr('y1',r[0]).attr('y2',r[0]).attr('stroke',r[1]).attr('stroke-width',5);
   const t=text(3583,r[0]+14,'',40);
   t.append('tspan').text('\u03b2');t.append('tspan').attr('font-size',28).attr('dy',8).text('KWW');t.append('tspan').attr('dy',-8).text(r[2]);
 });
 vtext(2028,2050,76,[['\u03b5'],['"',76,0,'bold'],['/\u03b5'],['"',76,0,'bold'],['max',52,14]]);
 const t=text(3055,2936,'f/f',74,{anchor:'middle'});t.append('tspan').attr('font-size',52).attr('dy',14).text('max');
 text(1992,1475,'(d)',86);
}
</script></body></html>
